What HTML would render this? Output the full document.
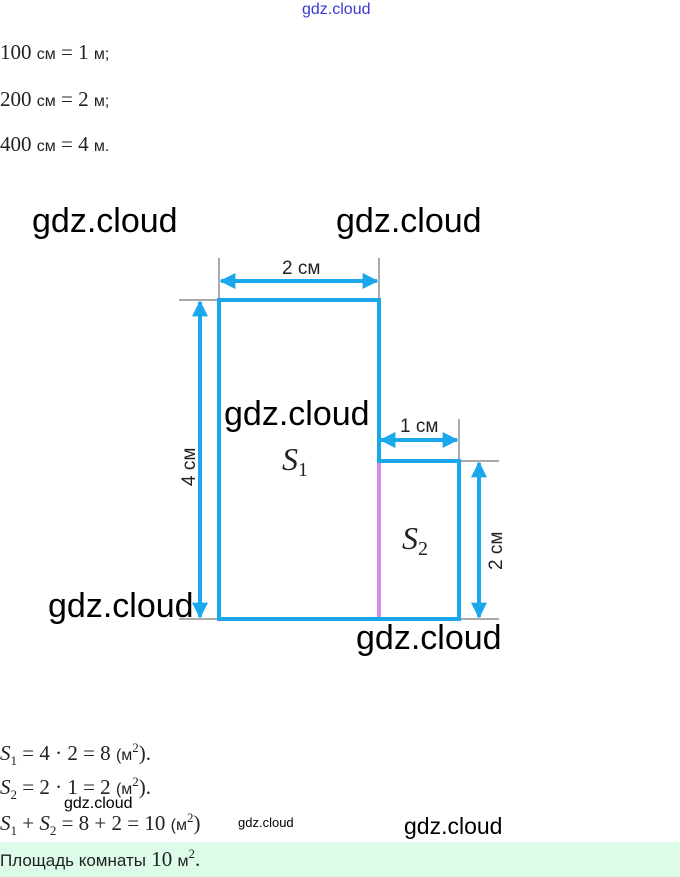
<!DOCTYPE html>
<html><head><meta charset="utf-8"><style>
body{margin:0;width:680px;height:877px;background:#fff;position:relative;overflow:hidden;font-family:"Liberation Serif",serif;color:#222}
.t{position:absolute;white-space:nowrap;font-size:21px}
.s{font-family:"Liberation Sans",sans-serif;font-size:16px}
.w{position:absolute;font-family:"Liberation Sans",sans-serif;color:#000;white-space:nowrap}
</style></head><body>
<div class="w" style="left:302px;top:1px;font-size:16px;color:#3a3ad0">gdz.cloud</div>
<div class="t" style="left:0;top:40px">100 <span class="s">см</span> = 1 <span class="s">м;</span></div>
<div class="t" style="left:0;top:87px">200 <span class="s">см</span> = 2 <span class="s">м;</span></div>
<div class="t" style="left:0;top:132px">400 <span class="s">см</span> = 4 <span class="s">м.</span></div>
<svg style="position:absolute;left:0;top:0" width="680" height="877">
<defs><marker id="a" viewBox="0 0 10 10" refX="9" refY="5" markerWidth="4" markerHeight="4" orient="auto-start-reverse"><path d="M0,0L10,5L0,10z" fill="#1aa7ec"/></marker></defs>
<g stroke="#aaa" stroke-width="2">
<line x1="179" y1="300" x2="219" y2="300"/><line x1="219" y1="258" x2="219" y2="300"/><line x1="379" y1="258" x2="379" y2="300"/>
<line x1="179" y1="619" x2="219" y2="619"/><line x1="459" y1="461" x2="499" y2="461"/><line x1="459" y1="619" x2="499" y2="619"/>
<line x1="459" y1="419" x2="459" y2="461"/></g>
<line x1="379" y1="461" x2="379" y2="619" stroke="#d48cf0" stroke-width="4"/>
<path d="M219,300H379V461H459V619H219Z" fill="none" stroke="#1aa7ec" stroke-width="4"/>
<g stroke="#1aa7ec" stroke-width="4" marker-start="url(#a)" marker-end="url(#a)">
<line x1="221" y1="281" x2="377" y2="281"/><line x1="200" y1="302" x2="200" y2="617"/>
<line x1="381" y1="440" x2="457" y2="440"/><line x1="479" y1="463" x2="479" y2="617"/></g>
<g font-family="Liberation Sans,sans-serif" font-size="19" fill="#222">
<text x="282" y="274">2 см</text><text x="400" y="432">1 см</text>
<text transform="translate(195,486) rotate(-90)">4 см</text>
<text transform="translate(502,570) rotate(-90)">2 см</text></g>
<g font-family="Liberation Serif,serif" font-style="italic" fill="#222"><text x="282" y="470" font-size="32">S<tspan font-style="normal" font-size="20" dy="6">1</tspan></text>
<text x="402" y="549" font-size="32">S<tspan font-style="normal" font-size="20" dy="6">2</tspan></text></g>
</svg>
<div class="w" style="left:32px;top:202px;font-size:34px">gdz.cloud</div>
<div class="w" style="left:336px;top:202px;font-size:34px">gdz.cloud</div>
<div class="w" style="left:224px;top:395px;font-size:34px">gdz.cloud</div>
<div class="w" style="left:48px;top:587px;font-size:34px">gdz.cloud</div>
<div class="w" style="left:356px;top:619px;font-size:34px">gdz.cloud</div>
<div class="t" style="left:0;top:740px"><i>S</i><sub style="font-size:13px">1</sub> = 4 · 2 = 8 <span class="s">(м</span><sup style="font-size:13px">2</sup>).</div>
<div class="t" style="left:0;top:774px"><i>S</i><sub style="font-size:13px">2</sub> = 2 · 1 = 2 <span class="s">(м</span><sup style="font-size:13px">2</sup>).</div>
<div class="t" style="left:0;top:810px"><i>S</i><sub style="font-size:13px">1</sub> + <i>S</i><sub style="font-size:13px">2</sub> = 8 + 2 = 10 <span class="s">(м</span><sup style="font-size:13px">2</sup>)</div>
<div class="w" style="left:64px;top:795px;font-size:16px">gdz.cloud</div>
<div class="w" style="left:238px;top:815px;font-size:13px">gdz.cloud</div>
<div class="w" style="left:404px;top:813px;font-size:23px">gdz.cloud</div>
<div style="position:absolute;left:0;top:842px;width:680px;height:35px;background:#dcfbe9"></div>
<div class="t" style="left:0;top:846px"><span class="s" style="font-size:17px">Площадь комнаты</span> 10 <span class="s">м</span><sup style="font-size:13px">2</sup>.</div>
</body></html>
